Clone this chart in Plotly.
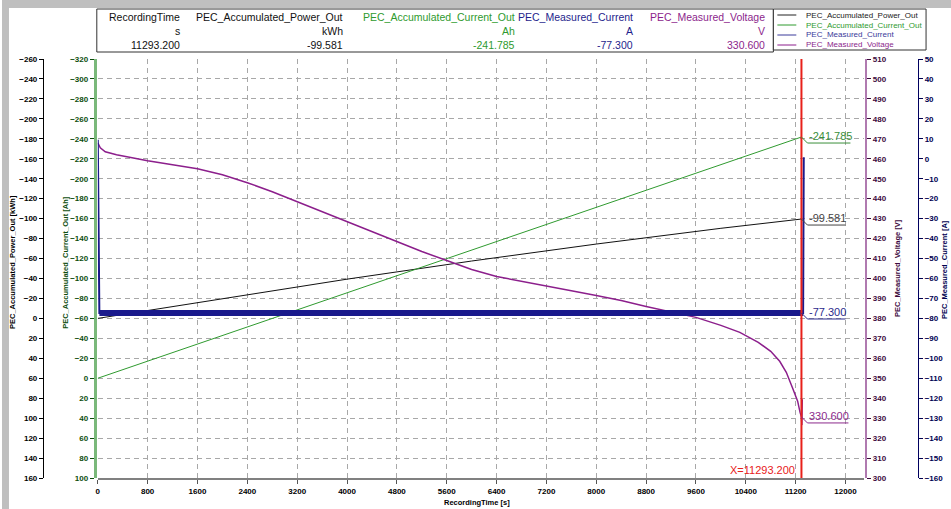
import plotly.graph_objects as go

W, H = 951, 509
MT, MB = 59, 31
PLOT_H = H - MT - MB


def fx(px):
    return px / W


def fy(py):
    return (H - MB - py) / PLOT_H


FONT = "Arial, Liberation Sans, sans-serif"

# ---------------- data ----------------
time_power = [0, 2000, 4000, 6000, 8000, 10000, 11293.2]
power_out = [0, -20.0, -39.3, -57.5, -74.5, -90.3, -99.581]

time_ah = [0, 4000, 8000, 11293.2]
current_out = [0, -85.6, -171.3, -241.785]

time_current = [0, 25, 11320, 11330]
meas_current = [9.5, -77.3, -77.3, 0.8]

time_voltage = [0, 40, 120, 300, 800, 1200, 1600, 2000, 2400, 2800, 3200, 3600, 4000,
                4400, 4800, 5200, 5600, 6000, 6400, 6800, 7200, 7600, 8000, 8400, 8800,
                9200, 9600, 10000, 10304, 10600, 10800, 10944, 11050, 11152, 11232,
                11270, 11293.2, 11300, 11306]
meas_voltage = [468, 465.5, 463.5, 462, 459, 457, 455, 452, 448, 443.5, 438.5, 433.5, 428.5,
                423.5, 418.5, 413.5, 409, 404.5, 401, 398.5, 396, 393.8, 391.5, 389, 386,
                383.2, 380.5, 376.5, 373, 368, 363.5, 358.5, 353, 345, 338.5,
                333, 330.6, 326.5, 339.5]

x_ticks = list(range(0, 12001, 800))
cursor_time = 11293.2
series_names = ["PEC_Accumulated_Power_Out", "PEC_Accumulated_Current_Out",
                "PEC_Measured_Current", "PEC_Measured_Voltage"]
series_units = ["kWh", "Ah", "A", "V"]
cursor_readout = [-99.581, -241.785, -77.300, 330.600]

# ---------------- styling ----------------
C_BLACK = "#111111"
C_GREEN = "#2f9a2f"
C_BLUE = "#1a1a8c"
C_PURPLE = "#8c1f8c"
GRID = "#a8a8a8"

fig = go.Figure()
fig.add_trace(go.Scatter(x=time_power, y=power_out, mode="lines", yaxis="y",
                         line=dict(color=C_BLACK, width=1), name=series_names[0]))
fig.add_trace(go.Scatter(x=time_ah, y=current_out, mode="lines", yaxis="y2",
                         line=dict(color=C_GREEN, width=1), name=series_names[1]))
fig.add_trace(go.Scatter(x=time_current, y=meas_current, mode="lines", yaxis="y4",
                         line=dict(color=C_BLUE, width=2), name=series_names[2]))
fig.add_trace(go.Scatter(x=time_current[1:-1], y=meas_current[1:-1], mode="lines", yaxis="y4",
                         line=dict(color=C_BLUE, width=6), showlegend=False))
fig.add_trace(go.Scatter(x=time_voltage, y=meas_voltage, mode="lines", yaxis="y3",
                         line=dict(color=C_PURPLE, width=1.5), name=series_names[3]))


def yax(rng, pos, side, color, tcolor, lw, grid=False, overlay=True):
    d = dict(range=rng, anchor="free", position=pos, side=side,
             showline=True, linecolor=color, linewidth=lw, ticks="outside", ticklen=4,
             tickcolor=tcolor, tickfont=dict(family=FONT, size=8, color=tcolor, weight="bold"),
             zeroline=False, showgrid=grid, gridcolor=GRID, griddash="5px,4px", gridwidth=1,
             domain=[0, 1])
    if overlay:
        d["overlaying"] = "y"
    return d


ya = yax([160, -260], fx(41), "left", "#000000", "#000000", 1, grid=True, overlay=False)
ya.update(tick0=0, dtick=20)
ya2 = yax([100, -320], fx(93), "left", "#7ab87a", "#0d4d0d", 3)
ya2.update(tick0=0, dtick=20)
ya3 = yax([300, 510], fx(866), "right", "#b07ab0", "#3d0a3d", 2)
ya3.update(tick0=300, dtick=10)
ya4 = yax([-160, 50], fx(918), "right", "#000060", "#000050", 1)
ya4.update(tick0=0, dtick=10)

fig.update_layout(
    width=W, height=H,
    margin=dict(l=0, r=0, t=MT, b=MB, pad=0),
    paper_bgcolor="white", plot_bgcolor="white",
    showlegend=False,
    xaxis=dict(domain=[fx(96), fx(864)], range=[0, 12300], tickvals=x_ticks,
               ticktext=[str(v) for v in x_ticks], showline=True, linecolor="#808080",
               linewidth=2, ticks="outside", ticklen=4, tickcolor="#555",
               tickfont=dict(family=FONT, size=8, color="#000", weight="bold"),
               showgrid=True, gridcolor=GRID, griddash="5px,4px", gridwidth=1,
               zeroline=False, anchor="y"),
    yaxis=ya, yaxis2=ya2, yaxis3=ya3, yaxis4=ya4,
)

shapes = []
annots = []
# gray window strips
shapes.append(dict(type="rect", xref="paper", yref="paper", x0=0, x1=1, y0=fy(8), y1=fy(0),
                   fillcolor="#bfbfbf", line=dict(width=0), layer="below"))
shapes.append(dict(type="rect", xref="paper", yref="paper", x0=0, x1=fx(7), y0=fy(H), y1=fy(0),
                   fillcolor="#bfbfbf", line=dict(width=0), layer="below"))

# cursor line
shapes.append(dict(type="line", xref="x", yref="paper", x0=cursor_time, x1=cursor_time, y0=0, y1=1,
                   line=dict(color="#e8201a", width=2)))
annots.append(dict(x=cursor_time, y=fy(470), xref="x", yref="paper", xanchor="right",
                   yanchor="middle", xshift=-4, showarrow=False,
                   text="X=%.3f" % cursor_time, font=dict(family=FONT, size=11, color="#e8201a")))

# readout labels at cursor
refs = ["y", "y2", "y4", "y3"]
lab_colors = ["#444444", "#3a8f3a", "#2a2a8c", "#8c2a8c"]
lens = [44, 49, 44, 47]
for val, ref, col, ln in zip(cursor_readout, refs, lab_colors, lens):
    shapes.append(dict(type="path", xref="x", yref=ref, xsizemode="pixel", ysizemode="pixel",
                       xanchor=cursor_time, yanchor=val,
                       path="M0,0 L6,-6 L%d,-6" % ln, line=dict(color=col, width=1)))
    annots.append(dict(x=cursor_time, y=val, xref="x", yref=ref, xanchor="left", yanchor="middle",
                       xshift=6, yshift=1, showarrow=False, text="%.3f" % val,
                       font=dict(family=FONT, size=11, color=col)))

# header table
shapes.append(dict(type="rect", xref="paper", yref="paper", x0=fx(95), x1=fx(773), y0=fy(52), y1=fy(9),
                   line=dict(color="#333", width=1), fillcolor="white"))
head_colors = ["#111111", "#111111", "#2e9a2e", "#1e1e8c", "#8c1f8c"]
col_right = [180, 344, 516, 634, 767]
names = ["RecordingTime"] + series_names
units = ["s"] + series_units
vals = ["%.3f" % cursor_time] + ["%.3f" % v for v in cursor_readout]
for i in range(5):
    for txt, row in ((names[i], 17), (units[i], 31), (vals[i], 45)):
        annots.append(dict(x=fx(col_right[i]), y=fy(row), xref="paper", yref="paper",
                           xanchor="right", yanchor="middle", showarrow=False, text=txt,
                           font=dict(family=FONT, size=10.5, color=head_colors[i])))

# legend box
shapes.append(dict(type="rect", xref="paper", yref="paper", x0=fx(773), x1=fx(926), y0=fy(50), y1=fy(9),
                   line=dict(color="#333", width=1), fillcolor="white"))
leg_colors = ["#222222", C_GREEN, "#3a3a9a", C_PURPLE]
for i, (nm, col) in enumerate(zip(series_names, leg_colors)):
    yy = 15 + i * 10
    shapes.append(dict(type="line", xref="paper", yref="paper", x0=fx(777), x1=fx(796),
                       y0=fy(yy), y1=fy(yy), line=dict(color=col, width=1)))
    annots.append(dict(x=fx(804), y=fy(yy), xref="paper", yref="paper", xanchor="left",
                       yanchor="middle", showarrow=False, text=nm,
                       font=dict(family=FONT, size=8, color=col)))

# axis titles
tfont = dict(family=FONT, size=7.5, weight="bold")
for txt, x, y, col in (("PEC_Accumulated_Power_Out [kWh]", 10, 262, "#000000"),
                       ("PEC_Accumulated_Current_Out [Ah]", 63, 262, "#0d4d0d"),
                       ("PEC_Measured_Voltage [V]", 897, 268, "#3d0a3d"),
                       ("PEC_Measured_Current [A]", 944, 270, "#000050")):
    annots.append(dict(x=fx(x), y=fy(y), xref="paper", yref="paper", xanchor="center",
                       yanchor="middle", textangle=-90, showarrow=False, text=txt,
                       font=dict(color=col, **tfont)))
annots.append(dict(x=fx(476), y=fy(502), xref="paper", yref="paper", xanchor="center",
                   yanchor="middle", showarrow=False, text="RecordingTime [s]",
                   font=dict(color="#000", **tfont)))

fig.update_layout(shapes=shapes, annotations=annots)
fig.write_html("out.html", config={"displayModeBar": False},
               post_script="document.body.style.margin='0px';document.body.style.padding='0px';"
                           "document.body.style.overflow='hidden';")
